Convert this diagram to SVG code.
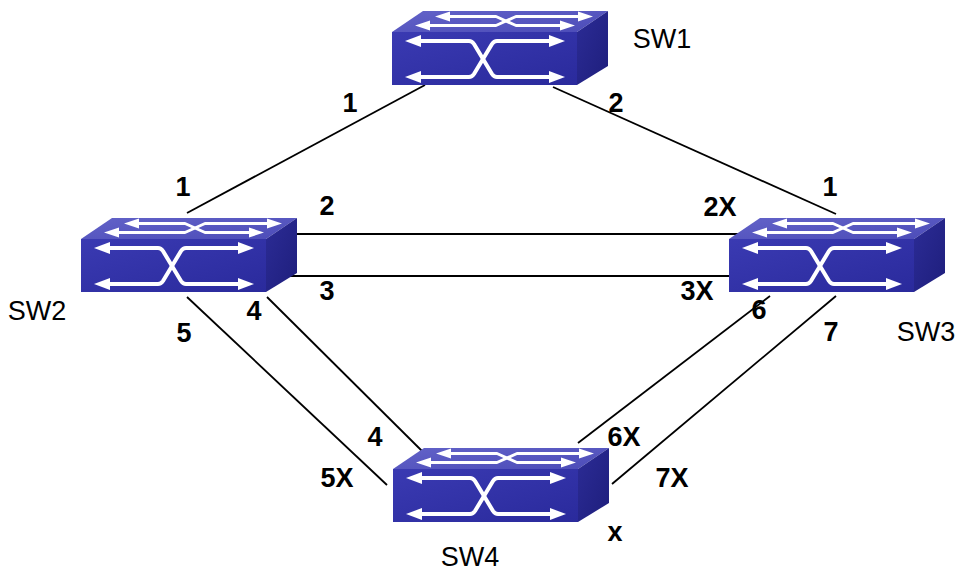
<svg xmlns="http://www.w3.org/2000/svg" xmlns:xlink="http://www.w3.org/1999/xlink" width="958" height="572" viewBox="0 0 958 572">
<style>
.ln{stroke:#000;stroke-width:1.8;fill:none}
.top{fill:url(#gTop)}
.front{fill:url(#gFront)}
.side{fill:url(#gSide)}
.wl{stroke:#fff;stroke-width:4;fill:none;stroke-linejoin:round}
.wt{stroke:#fff;stroke-width:3;fill:none;stroke-linejoin:round}
.wh{fill:#fff}
.lb{font-family:"Liberation Sans",Arial,sans-serif;font-size:27px;font-weight:bold;fill:#000;text-anchor:middle}
.nm{font-family:"Liberation Sans",Arial,sans-serif;font-size:27px;fill:#000;text-anchor:middle}
</style>
<defs>
<linearGradient id="gTop" x1="0" y1="0" x2="1" y2="1">
<stop offset="0" stop-color="#6262c8"/><stop offset="1" stop-color="#4c4cb8"/>
</linearGradient>
<linearGradient id="gFront" x1="0" y1="0" x2="1" y2="1">
<stop offset="0" stop-color="#3a3ab2"/><stop offset="1" stop-color="#2a2a9c"/>
</linearGradient>
<linearGradient id="gSide" x1="0" y1="0" x2="1" y2="1">
<stop offset="0" stop-color="#2c2c96"/><stop offset="1" stop-color="#1e1e7c"/>
</linearGradient>
<g id="sw">
<polygon class="top" points="0,21 31,0 216,0 185,21"/>
<rect class="front" x="0" y="21" width="185" height="53"/>
<polygon class="side" points="185,21 216,0 216,55 185,74"/>
<path class="wl" d="M26,30 H77 Q80,30 82,33 L100,63 Q102,66 105,66 H160"/>
<path class="wl" d="M26,66 H77 Q80,66 82,63 L100,33 Q102,30 105,30 H160"/>
<polygon class="wh" points="13,30 29,24 29,36"/>
<polygon class="wh" points="173,30 157,24 157,36"/>
<polygon class="wh" points="13,66 29,60 29,72"/>
<polygon class="wh" points="173,66 157,60 157,72"/>
<path class="wt" d="M54,5.5 H104 L124,14.5 H172"/>
<path class="wt" d="M34,14.5 H104 L124,5.5 H190"/>
<polygon class="wh" points="43,5.5 58,0.5 58,10.5"/>
<polygon class="wh" points="201,5.5 186,0.5 186,10.5"/>
<polygon class="wh" points="23,14.5 38,9.5 38,19.5"/>
<polygon class="wh" points="183,14.5 168,9.5 168,19.5"/>
</g>
</defs>
<rect width="958" height="572" fill="#fff"/>
<g id="connectors">
<line class="ln" x1="425" y1="85" x2="187" y2="213"/>
<line class="ln" x1="553" y1="87" x2="836" y2="214"/>
<line class="ln" x1="288" y1="234" x2="738" y2="234"/>
<line class="ln" x1="290" y1="276" x2="730" y2="276"/>
<line class="ln" x1="187" y1="297" x2="387" y2="485"/>
<line class="ln" x1="267" y1="297" x2="422" y2="451"/>
<line class="ln" x1="770" y1="296" x2="578" y2="443"/>
<line class="ln" x1="836" y1="296" x2="612" y2="484"/>
</g>
<g id="SW1">
<use xlink:href="#sw" x="392" y="11"/>
<text class="nm" x="662" y="48">SW1</text>
</g>
<g id="SW2">
<use xlink:href="#sw" x="81" y="218"/>
<text class="nm" x="37" y="320">SW2</text>
</g>
<g id="SW3">
<use xlink:href="#sw" x="729" y="218"/>
<text class="nm" x="926" y="341">SW3</text>
</g>
<g id="SW4">
<use xlink:href="#sw" x="393" y="448"/>
<text class="nm" x="470" y="566">SW4</text>
</g>
<g id="labels">
<text class="lb" x="350" y="112">1</text>
<text class="lb" x="616" y="112">2</text>
<text class="lb" x="183" y="196">1</text>
<text class="lb" x="327" y="215">2</text>
<text class="lb" x="720" y="216">2X</text>
<text class="lb" x="830" y="196">1</text>
<text class="lb" x="327" y="300">3</text>
<text class="lb" x="697" y="300">3X</text>
<text class="lb" x="254" y="320">4</text>
<text class="lb" x="184" y="342">5</text>
<text class="lb" x="759" y="319">6</text>
<text class="lb" x="831" y="341">7</text>
<text class="lb" x="375" y="446">4</text>
<text class="lb" x="624" y="446">6X</text>
<text class="lb" x="337" y="487">5X</text>
<text class="lb" x="672" y="487">7X</text>
<text class="lb" x="615" y="541">x</text>
</g>
</svg>
